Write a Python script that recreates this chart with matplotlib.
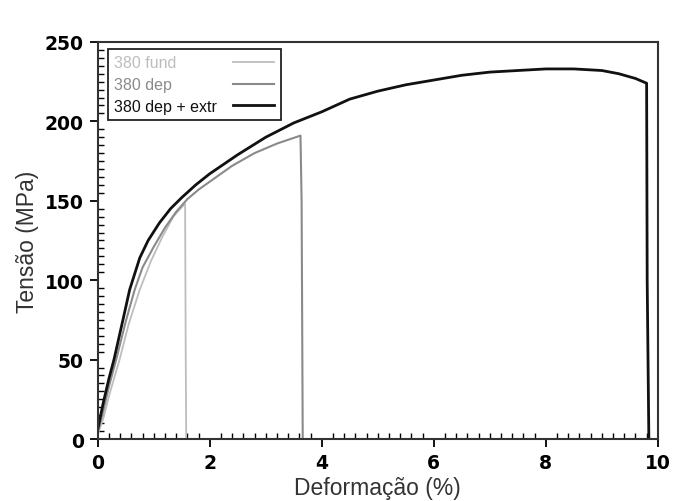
import matplotlib
matplotlib.use("Agg")
import matplotlib.pyplot as plt
from matplotlib.ticker import MultipleLocator

plt.rcParams['font.family'] = ['Liberation Sans', 'DejaVu Sans']

# 380 fund (fundido)
fund_x = [0, 0.1, 0.2, 0.39, 0.55, 0.75, 0.95, 1.15, 1.35, 1.5, 1.56, 1.57, 1.58]
fund_y = [3, 13, 27, 50, 72, 94, 112, 127, 140, 146, 148, 60, 0]

# 380 dep
dep_x = [0, 0.1, 0.2, 0.33, 0.5, 0.66, 0.8, 1.0, 1.2, 1.4, 1.6, 1.8, 2.0, 2.4, 2.8, 3.2, 3.62, 3.64, 3.66]
dep_y = [4, 18, 33, 50, 74, 94, 108, 121, 133, 143, 151, 157, 162, 172, 180, 186, 191, 150, 0]

# 380 dep + extr
extr_x = [0, 0.1, 0.2, 0.29, 0.45, 0.57, 0.75, 0.9, 1.1, 1.3, 1.5, 1.75, 2.0, 2.5, 3.0, 3.5,
          4.0, 4.5, 5.0, 5.5, 6.0, 6.5, 7.0, 7.5, 8.0, 8.5, 9.0, 9.3, 9.6, 9.8, 9.81, 9.84]
extr_y = [6, 23, 38, 50, 75, 94, 114, 125, 136, 145, 152, 160, 167, 179, 190, 199,
          206, 214, 219, 223, 226, 229, 231, 232, 233, 233, 232, 230, 227, 224, 100, 0]

fig = plt.figure(figsize=(6.74, 5.02), dpi=100)
ax = fig.add_axes([0.145, 0.1235, 0.831, 0.791])

ax.plot(fund_x, fund_y, color='#bdbdbd', lw=1.3, label='380 fund')
ax.plot(dep_x, dep_y, color='#8a8a8a', lw=1.5, label='380 dep')
ax.plot(extr_x, extr_y, color='#111111', lw=2.0, label='380 dep + extr')

ax.set_xlim(0, 10)
ax.set_ylim(0, 250)
ax.xaxis.set_major_locator(MultipleLocator(2))
ax.xaxis.set_minor_locator(MultipleLocator(0.2))
ax.yaxis.set_major_locator(MultipleLocator(50))
ax.yaxis.set_minor_locator(MultipleLocator(5))
ax.tick_params(which='major', direction='out', length=6, width=1.3, pad=4)
ax.tick_params(which='minor', direction='in', length=4, width=1.0)
# tick labels are wide bold digits
for lab in ax.get_xticklabels() + ax.get_yticklabels():
    lab.set_family('DejaVu Sans')
    lab.set_fontweight('bold')
    lab.set_fontsize(13.5)
for s in ax.spines.values():
    s.set_linewidth(1.5)
    s.set_color('#333333')

ax.set_xlabel('Deformação (%)', fontsize=16.5, color='#333333', labelpad=3)
ax.set_ylabel('Tensão (MPa)', fontsize=16.5, color='#333333', labelpad=4)

leg = ax.legend(loc='upper left', markerfirst=False, fontsize=11.5, fancybox=False,
                edgecolor='#222222', framealpha=1, handlelength=2.6,
                borderpad=0.4, labelspacing=0.42, borderaxespad=0,
                bbox_to_anchor=(0.018, 0.982))
leg.get_frame().set_linewidth(1.3)
for txt, line in zip(leg.get_texts(), leg.get_lines()):
    txt.set_color(line.get_color())
# left-align the labels, keep the line samples on the right
for col in leg._legend_handle_box.get_children():
    col.align = 'left'
    for row in col.get_children():
        row.mode = 'expand'
        row.width = 160

fig.savefig('out.png', dpi=100)
